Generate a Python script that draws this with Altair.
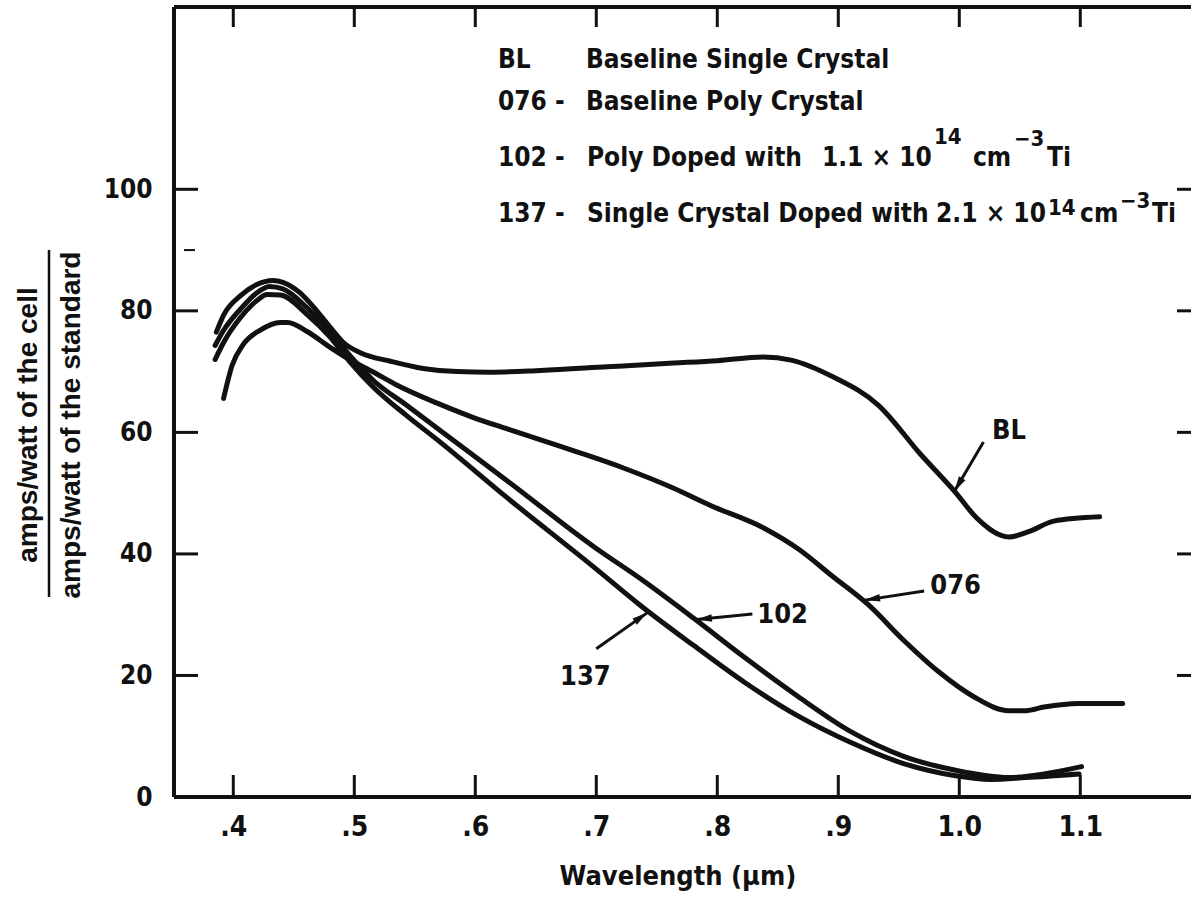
import math
import json
import altair as alt
import pandas as pd

# ---------------- values ----------------
series_names = ["BL", "076", "102", "137"]

bl_wavelength = [0.386, 0.392, 0.406, 0.419, 0.433, 0.441, 0.455, 0.469, 0.483, 0.491,
                 0.505, 0.530, 0.557, 0.585, 0.612, 0.654, 0.709, 0.764, 0.800, 0.838,
                 0.861, 0.896, 0.933, 0.968, 0.997, 1.014, 1.041, 1.058, 1.078, 1.116]
bl_response = [76.5, 79.3, 82.5, 84.3, 85.0, 84.7, 83.0, 80.0, 76.6, 74.8,
               73.1, 71.7, 70.5, 70.0, 69.9, 70.2, 70.8, 71.4, 71.8, 72.4,
               71.9, 69.1, 64.5, 56.4, 50.1, 46.0, 42.8, 43.7, 45.4, 46.1]

p076_wavelength = [0.392, 0.399, 0.408, 0.422, 0.439, 0.445, 0.461, 0.480, 0.496, 0.516,
                   0.535, 0.571, 0.599, 0.626, 0.681, 0.723, 0.764, 0.794, 0.838, 0.867,
                   0.896, 0.925, 0.954, 0.983, 1.012, 1.041, 1.055, 1.070, 1.099, 1.135]
p076_response = [65.6, 71.0, 74.4, 76.8, 78.1, 78.1, 76.6, 74.0, 72.0, 69.9,
                 67.8, 64.6, 62.4, 60.6, 57.0, 54.1, 50.8, 48.0, 44.3, 40.8,
                 36.2, 31.6, 25.8, 20.6, 16.5, 14.2, 14.2, 14.8, 15.4, 15.4]

p102_wavelength = [0.385, 0.392, 0.406, 0.419, 0.430, 0.441, 0.461, 0.480, 0.497, 0.516,
                   0.543, 0.571, 0.626, 0.700, 0.736, 0.780, 0.823, 0.867, 0.910, 0.954,
                   0.997, 1.041, 1.070, 1.101]
p102_response = [74.3, 76.8, 80.3, 82.9, 84.0, 83.6, 80.5, 76.6, 72.5, 68.5,
                 64.5, 60.3, 52.1, 40.9, 36.0, 29.5, 22.9, 16.5, 10.8, 6.7,
                 4.4, 3.2, 3.8, 5.0]

p137_wavelength = [0.385, 0.392, 0.406, 0.419, 0.428, 0.439, 0.461, 0.480, 0.496, 0.516,
                   0.543, 0.571, 0.626, 0.700, 0.736, 0.780, 0.823, 0.867, 0.910, 0.954,
                   0.997, 1.026, 1.055, 1.099]
p137_response = [72.0, 74.8, 78.9, 81.6, 82.7, 82.6, 79.4, 75.7, 71.7, 67.4,
                 62.8, 58.4, 49.3, 37.5, 31.6, 25.0, 18.8, 13.3, 9.0, 5.5,
                 3.5, 2.9, 3.2, 3.8]

x_tick_values = [0.4, 0.5, 0.6, 0.7, 0.8, 0.9, 1.0, 1.1]
x_tick_keys = ["0.4", "0.5", "0.6", "0.7", "0.8", "0.9", "1.0", "1.1"]
x_tick_labels = [".4", ".5", ".6", ".7", ".8", ".9", "1.0", "1.1"]
y_tick_values = [0, 20, 40, 60, 80, 100]
y_inner_ticks = [20, 40, 60, 80, 100]
y_minor_ticks = [90]

# curve labels and their arrows (wavelength, response)
curve_label_text = ["BL", "076", "102", "137"]
curve_label_w = [1.041, 0.997, 0.854, 0.691]
curve_label_v = [60.3, 34.7, 30.0, 19.8]
arrow_from_w = [1.020, 0.971, 0.829, 0.700]
arrow_from_v = [58.4, 33.9, 30.1, 24.4]
arrow_to_w = [0.996, 0.922, 0.783, 0.742]
arrow_to_v = [50.3, 32.4, 29.2, 30.3]

# key text block (pieces, anchored at wavelength / response baseline)
key_text = ["BL", "Baseline Single Crystal",
            "076 -", "Baseline Poly Crystal",
            "102 -", "Poly Doped with", "1.1 \u00d7 10", "14", "cm", "\u22123", "Ti",
            "137 -", "Single Crystal Doped with", "2.1 \u00d7 10", "14", "cm", "\u22123", "Ti"]
key_w = [0.6188, 0.6915,
         0.6188, 0.6915,
         0.6188, 0.6923, 0.8865, 0.9791, 1.0113, 1.0452, 1.0725,
         0.6188, 0.6923, 0.9808, 1.0733, 1.0998, 1.1328, 1.1593]
key_v = [119.9, 119.9,
         113.0, 113.0,
         103.8, 103.8, 103.8, 107.4, 103.8, 107.2, 103.8,
         94.6, 94.6, 94.6, 95.7, 94.6, 96.9, 94.6]
key_size = [26, 26, 26, 26, 26, 26, 26, 22, 26, 22, 26, 26, 26, 26, 22, 26, 22, 26]

y_title_lines = ["amps/watt of the cell", "amps/watt of the standard"]
x_title_text = ["Wavelength (\u03bcm)"]

# ---------------- layout / style ----------------
PLOT_W, PLOT_H = 1017, 790
X_DOMAIN = [0.351, 1.1915]
Y_DOMAIN = [0, 130]
INK = "#111111"
COND = "DejaVu Sans Condensed, Liberation Sans, sans-serif"
REGULAR = "Liberation Sans, Arial, sans-serif"
ARROW_PATH = "M0,0L-0.55,2.2L0.55,2.2Z"

xs = alt.Scale(domain=X_DOMAIN, nice=False, zero=False)
ys = alt.Scale(domain=Y_DOMAIN, nice=False, zero=False)

rows = []
for name, ws, vs in zip(series_names,
                        [bl_wavelength, p076_wavelength, p102_wavelength, p137_wavelength],
                        [bl_response, p076_response, p102_response, p137_response]):
    for w, v in zip(ws, vs):
        rows.append({"series": name, "w": w, "v": v})
curves_df = pd.DataFrame(rows)

px_x = PLOT_W / (X_DOMAIN[1] - X_DOMAIN[0])
px_y = PLOT_H / (Y_DOMAIN[1] - Y_DOMAIN[0])
angles = []
for fw, fv, tw, tv in zip(arrow_from_w, arrow_from_v, arrow_to_w, arrow_to_v):
    dx = (tw - fw) * px_x
    dy = -(tv - fv) * px_y
    angles.append(math.degrees(math.atan2(dx, -dy)) % 360)
arrows_df = pd.DataFrame({"fw": arrow_from_w, "fv": arrow_from_v,
                          "tw": arrow_to_w, "tv": arrow_to_v, "ang": angles})
labels_df = pd.DataFrame({"label": curve_label_text, "w": curve_label_w, "v": curve_label_v})
key_df = pd.DataFrame({"t": key_text, "w": key_w, "v": key_v, "s": key_size})
xticks_df = pd.DataFrame({"t": x_tick_values})
yticks_df = pd.DataFrame({"t": y_inner_ticks})
yminor_df = pd.DataFrame({"t": y_minor_ticks})

label_expr = "{}[indexof({}, format(datum.value, '.1f'))]".format(
    json.dumps(x_tick_labels), json.dumps(x_tick_keys))

bottom_axis = alt.Axis(orient="bottom", values=x_tick_values, labelExpr=label_expr,
                       ticks=False, domain=False, grid=False,
                       labelPadding=16, labelFont=COND, labelFontSize=28,
                       labelFontWeight="bold", labelColor=INK,
                       labelFlush=False, labelOverlap=False, title=None)
left_axis = alt.Axis(orient="left", values=y_tick_values, ticks=False,
                     domain=False, grid=False, labelPadding=22, labelFont=COND,
                     labelFontSize=26, labelFontWeight="bold", labelColor=INK,
                     labelFlush=False, title=None)

curves = alt.Chart(curves_df).mark_line(
    interpolate="monotone", strokeWidth=5, color=INK, strokeCap="round"
).encode(
    x=alt.X("w:Q", scale=xs, axis=bottom_axis),
    y=alt.Y("v:Q", scale=ys, axis=left_axis),
    detail="series:N",
)

# inward tick marks on all four sides, placed through the scales
tick_style = dict(strokeWidth=3, color=INK)
ticks_bottom = alt.Chart(xticks_df).mark_rule(**tick_style).encode(
    x=alt.X("t:Q", scale=xs, axis=None), y=alt.value(PLOT_H), y2=alt.value(PLOT_H - 22))
ticks_top = alt.Chart(xticks_df).mark_rule(**tick_style).encode(
    x=alt.X("t:Q", scale=xs, axis=None), y=alt.value(0), y2=alt.value(20))
ticks_left = alt.Chart(yticks_df).mark_rule(**tick_style).encode(
    y=alt.Y("t:Q", scale=ys, axis=None), x=alt.value(0), x2=alt.value(24))
ticks_right = alt.Chart(yticks_df).mark_rule(**tick_style).encode(
    y=alt.Y("t:Q", scale=ys, axis=None), x=alt.value(PLOT_W - 14), x2=alt.value(PLOT_W))
ticks_minor = alt.Chart(yminor_df).mark_rule(strokeWidth=2, color=INK).encode(
    y=alt.Y("t:Q", scale=ys, axis=None), x=alt.value(10), x2=alt.value(21))

shafts = alt.Chart(arrows_df).mark_rule(strokeWidth=3, color=INK).encode(
    x=alt.X("fw:Q", scale=xs, axis=None),
    y=alt.Y("fv:Q", scale=ys, axis=None),
    x2="tw:Q",
    y2="tv:Q",
)

heads = alt.Chart(arrows_df).mark_point(
    shape=ARROW_PATH, filled=True, size=190, color=INK, opacity=1, strokeWidth=0
).encode(
    x=alt.X("tw:Q", scale=xs, axis=None),
    y=alt.Y("tv:Q", scale=ys, axis=None),
    angle=alt.Angle("ang:Q", scale=None),
)

curve_labels = alt.Chart(labels_df).mark_text(
    font=COND, fontSize=27, fontWeight="bold", color=INK, align="center", baseline="middle"
).encode(
    x=alt.X("w:Q", scale=xs, axis=None),
    y=alt.Y("v:Q", scale=ys, axis=None),
    text="label:N",
)

key = alt.Chart(key_df).mark_text(
    font=COND, fontWeight="bold", color=INK, align="left", baseline="alphabetic"
).encode(
    x=alt.X("w:Q", scale=xs, axis=None),
    y=alt.Y("v:Q", scale=ys, axis=None),
    text="t:N",
    size=alt.Size("s:Q", scale=None, legend=None),
)

ytitle_top = alt.Chart(pd.DataFrame({"t": [y_title_lines[0]]})).mark_text(
    font=REGULAR, fontSize=28, fontWeight="bold", color=INK, angle=270,
    align="center", baseline="middle"
).encode(x=alt.value(-145), y=alt.value(418), text="t:N")

ytitle_bottom = alt.Chart(pd.DataFrame({"t": [y_title_lines[1]]})).mark_text(
    font=REGULAR, fontSize=28, fontWeight="bold", color=INK, angle=270,
    align="center", baseline="middle"
).encode(x=alt.value(-102), y=alt.value(418), text="t:N")

one = pd.DataFrame({"k": [0]})
fraction_bar = alt.Chart(one).mark_rule(strokeWidth=2.5, color=INK).encode(
    x=alt.value(-125), y=alt.value(243), y2=alt.value(590))

xtitle = alt.Chart(pd.DataFrame({"t": x_title_text})).mark_text(
    font=COND, fontSize=27, fontWeight="bold", color=INK, align="center", baseline="middle"
).encode(x=alt.value(504), y=alt.value(870), text="t:N")

frame_left = alt.Chart(one).mark_rule(strokeWidth=4, color=INK).encode(
    x=alt.value(0), y=alt.value(0), y2=alt.value(PLOT_H))
frame_top = alt.Chart(one).mark_rule(strokeWidth=4, color=INK).encode(
    x=alt.value(0), x2=alt.value(PLOT_W), y=alt.value(0))
frame_bottom = alt.Chart(one).mark_rule(strokeWidth=4, color=INK).encode(
    x=alt.value(0), x2=alt.value(PLOT_W), y=alt.value(PLOT_H))

chart = alt.layer(
    curves, ticks_bottom, ticks_top, ticks_left, ticks_right, ticks_minor,
    shafts, heads, curve_labels, key,
    ytitle_top, ytitle_bottom, fraction_bar, xtitle,
    frame_left, frame_top, frame_bottom,
).resolve_axis(
    x="independent", y="independent"
).properties(
    width=PLOT_W, height=PLOT_H,
    autosize=alt.AutoSizeParams(type="none"),
    padding={"left": 174, "top": 7, "right": 0, "bottom": 104},
    background="white",
).configure_view(stroke=None).configure_axis(grid=False)

chart.save("out.html", embed_options={"renderer": "svg", "actions": False})
